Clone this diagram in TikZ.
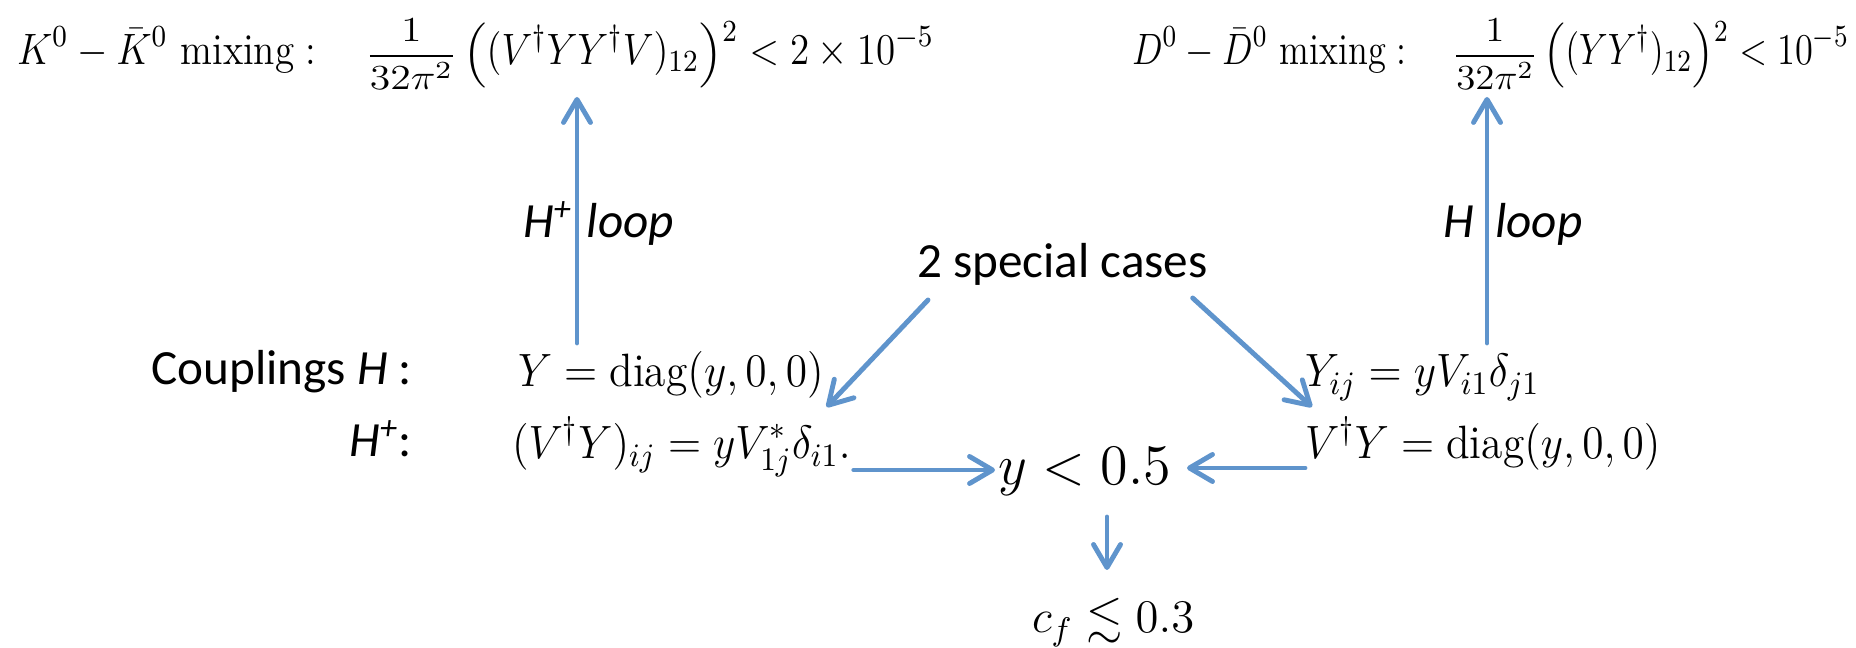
\RequirePackage{fix-cm}
\documentclass[tikz,border=0pt]{standalone}
\usepackage{amsmath,amssymb}
\usepackage{fontspec}
\newfontfamily\calibri{Carlito}
\usetikzlibrary{arrows.meta,calc}
\definecolor{arrowblue}{RGB}{95,148,204}
\newcommand{\mx}[2]{\scalebox{#1}[1]{$\displaystyle #2$}}
\newcommand{\pref}{\scalebox{1.07}[0.8]{$\displaystyle\frac{1}{32\pi^2}$}}
\newcommand{\bigLp}{\mathopen{\scalebox{1}[0.82]{$\Big($}}}
\newcommand{\bigRp}{\mathclose{\scalebox{1}[0.82]{$\Big)$}}}
\newcommand{\sqtwo}{^{\raisebox{-0.6mm}{$\scriptstyle 2$}}}
\begin{document}
\begin{tikzpicture}[x=1cm,y=1cm,
  every node/.style={inner sep=0pt, outer sep=0pt},
  toptext/.style={font=\fontsize{12.5}{15}\selectfont},
  mathtext/.style={font=\fontsize{13.3}{15}\selectfont},
  bigmath/.style={font=\fontsize{16.3}{19}\selectfont},
  sanstext/.style={font=\calibri\fontsize{14}{17}\selectfont},
  arr/.style={draw=arrowblue, line width=1.4pt, line cap=round,
    -{Straight Barb[length=2.3mm,width=2.7mm,round]}}]
\useasboundingbox (0,0) rectangle (18.56,-6.48);
% top formulas
\node[toptext, anchor=base west] (topL) at (0.17,-0.65)
  {\mx{0.89}{K^0-\bar{K}^0\ \mathrm{mixing}:\quad \pref\,\bigLp(V^\dagger YY^\dagger V)_{12}\bigRp\sqtwo<2\times10^{-5}}};
\node[toptext, anchor=base west] (topR) at (11.32,-0.65)
  {\mx{0.83}{D^0-\bar{D}^0\ \mathrm{mixing}:\quad \pref\,\bigLp(YY^\dagger)_{12}\bigRp\sqtwo<10^{-5}}};
% loop labels
\node[sanstext, anchor=base west] (lblL) at (5.23,-2.38) {\itshape H\textsuperscript{+}\hspace{0.29em}loop};
\node[sanstext, anchor=base west] (lblR) at (14.43,-2.38) {\itshape H\hspace{0.44em}loop};
% special cases
\node[sanstext, anchor=base west] (special) at (9.17,-2.78) {2 special cases};
% couplings
\node[sanstext, anchor=base east] (coupl) at (4.12,-3.85) {Couplings \textit{H} :};
\node[sanstext, anchor=base east] (hplus) at (4.12,-4.57) {\textit{H}\textsuperscript{\itshape +}:};
\node[mathtext, anchor=base west] (rowL1) at (5.18,-3.87) {\mx{0.93}{Y=\mathrm{diag}(y,0,0)}};
\node[mathtext, anchor=base west] (rowL2) at (5.12,-4.59) {\mx{0.93}{(V^\dagger Y)_{ij}=yV^*_{1j}\delta_{i1}.}};
\node[mathtext, anchor=base west] (rowR1) at (13.05,-3.87) {\mx{0.93}{Y_{ij}=yV_{i1}\delta_{j1}}};
\node[mathtext, anchor=base west] (rowR2) at (13.05,-4.59) {\mx{0.93}{V^\dagger Y=\mathrm{diag}(y,0,0)}};
% results
\node[bigmath, anchor=base west] (ylim) at (9.98,-4.85) {\mx{0.98}{y<0.5}};
\node[mathtext, anchor=base west] (cf) at (10.32,-6.33) {\mx{1.0}{c_f\lesssim0.3}};
% arrow guides
\coordinate (aL) at (5.77,0);
\coordinate (aR) at (14.87,0);
\coordinate (hL) at (0,-4.70);
\coordinate (hR) at (0,-4.68);
\coordinate (dx) at (11.07,0);
% arrows
\draw[arr] ([yshift=4.4mm]rowL1.base -| aL) -- ([yshift=-3.2mm]topL.base -| aL);
\draw[arr] ([yshift=4.4mm]rowR1.base -| aR) -- ([yshift=-3.2mm]topR.base -| aR);
\draw[arr] ($(special.base west)+(0.11,-0.22)$) -- ($(rowL1.base east)+(0.03,-0.20)$);
\draw[arr] ($(special.base east)+(-0.15,-0.20)$) -- ($(rowR1.base west)+(0.07,-0.20)$);
\draw[arr] ([xshift=0.3mm]rowL2.east |- hL) -- ([xshift=-0.3mm]ylim.west |- hL);
\draw[arr] (rowR2.west |- hR) -- ([xshift=1.6mm]ylim.east |- hR);
\draw[arr] ([yshift=-3.2mm]ylim.base -| dx) -- ([yshift=6.3mm]cf.base -| dx);
\end{tikzpicture}
\end{document}
